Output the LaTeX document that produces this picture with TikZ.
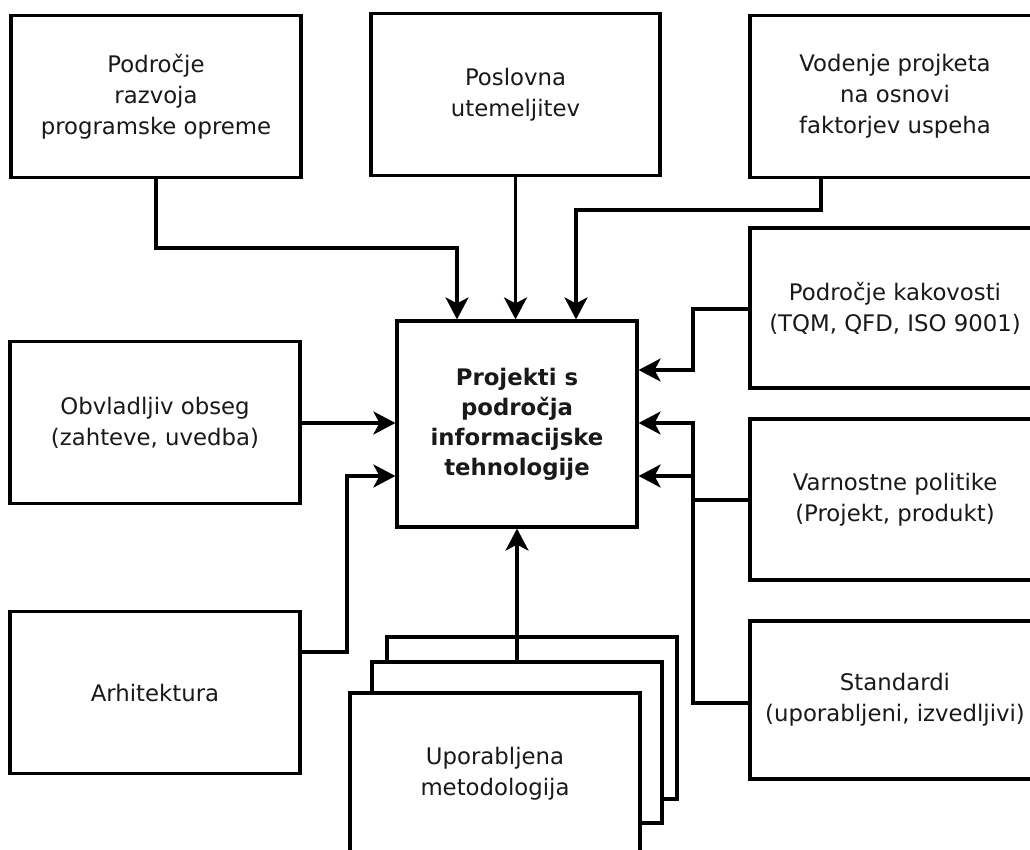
\documentclass[tikz,border=0pt]{standalone}
\usepackage{fontspec}
\setmainfont{DejaVu Sans}
\usetikzlibrary{arrows.meta}
\begin{document}
\begin{tikzpicture}[x=1pt,y=-1pt,
  box/.style={draw=black, line width=3.2pt, fill=white, align=center,
    inner sep=0pt, minimum width=290pt, minimum height=162pt,
    font=\fontsize{22.8}{31}\selectfont, text=black!90},
  conn/.style={draw=black, line width=3.2pt},
  arr/.style={conn, -{Stealth[length=22pt, width=23pt, inset=6pt]}}]
\useasboundingbox (0,0) rectangle (1030,850);
\clip (0,0) rectangle (1030,850);
\fill[white] (0,0) rectangle (1030,850);

% central node
\node[box, minimum width=240pt, minimum height=206pt, font=\fontsize{22.8}{30}\selectfont\bfseries]
  (c) at (517,424) {Projekti s\\področja\\informacijske\\tehnologije};

% upper row
\node[box] (b1) at (156,96.5) {Področje\\razvoja\\programske opreme};
\node[box, minimum width=289pt] (b2) at (515.5,94.5) {Poslovna\\utemeljitev};
\node[box] (b3) at (895,96.5) {Vodenje projketa\\na osnovi\\faktorjev uspeha};

% left column
\node[box] (ob) at (155,422.5) {Obvladljiv obseg\\(zahteve, uvedba)};
\node[box] (ar) at (155,692.5) {Arhitektura};

% right column
\node[box, minimum height=160pt] (q) at (895,308) {Področje kakovosti\\(TQM, QFD, ISO 9001)};
\node[box, minimum height=161pt] (v) at (895,499.5) {Varnostne politike\\(Projekt, produkt)};
\node[box, minimum height=158pt] (s) at (895,700) {Standardi\\(uporabljeni, izvedljivi)};

% stacked methodology sheets, back to front
\draw[conn, fill=white] (387,637) rectangle (677,799);
\node[box, minimum height=161pt] (u2) at (517,742.5) {};
\draw[arr] (u2.north) -- (c.south);
\node[box, minimum height=162pt] (u) at (495,774) {Uporabljena\\metodologija};

% connectors from the top
\coordinate (k1) at (457,248);
\draw[arr] (b1.south) |- (k1) -- (k1 |- c.north);
\draw[arr] (b2.south) -- (b2.south |- c.north);
\coordinate (k3) at (821,210);
\coordinate (k3b) at (576,210);
\draw[arr] (k3 |- b3.south) -- (k3) -- (k3b) -- (k3b |- c.north);

% connectors from the left
\draw[arr] (ob.east |- 0,423) -- (c.west |- 0,423);
\coordinate (ka) at (347,652);
\coordinate (kb) at (347,476);
\draw[arr] (ar.east |- ka) -- (ka) -- (kb) -- (c.west |- kb);

% connectors from the right
\coordinate (jq) at (693,309);
\coordinate (jq2) at (693,370);
\draw[arr] (q.west |- jq) -- (jq) -- (jq2) -- (c.east |- jq2);
\coordinate (jv) at (693,500);
\coordinate (jv2) at (693,423);
\draw[arr] (v.west |- jv) -- (jv) -- (jv2) -- (c.east |- jv2);
\coordinate (js) at (693,703);
\coordinate (js2) at (693,476);
\draw[arr] (s.west |- js) -- (js) -- (js2) -- (c.east |- js2);
\end{tikzpicture}
\end{document}
